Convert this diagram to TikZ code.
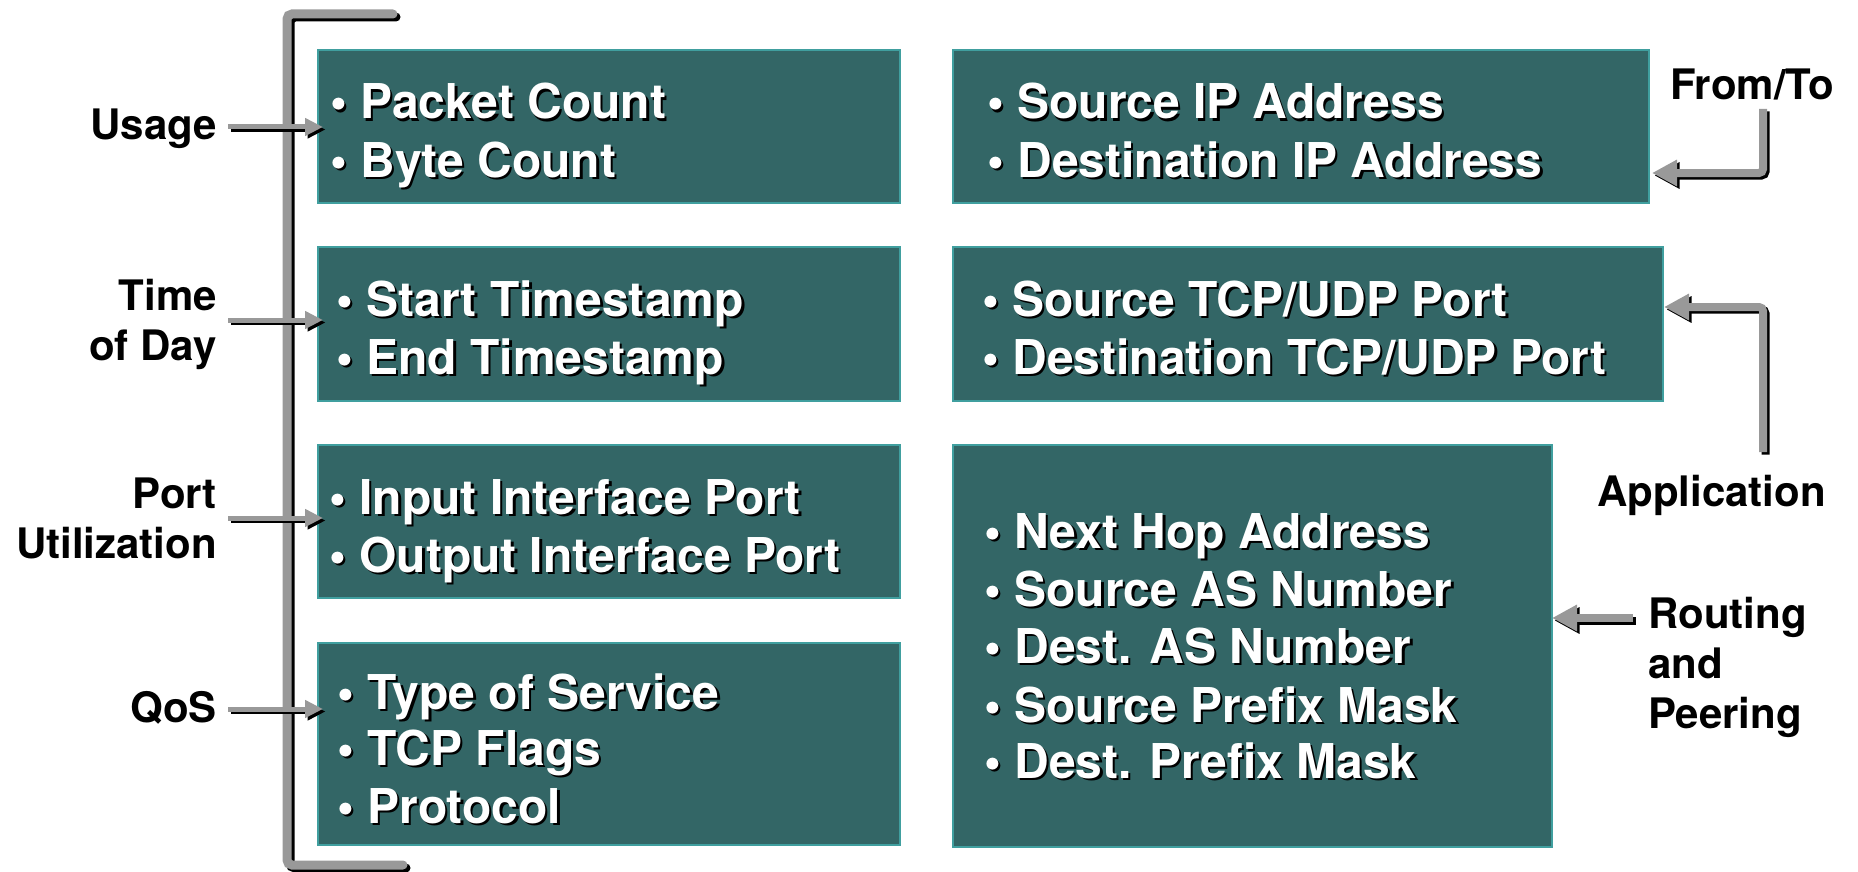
\documentclass[tikz,border=0pt]{standalone}
\usepackage{fontspec}
\setmainfont{TeX Gyre Heros}
\usetikzlibrary{arrows.meta,calc}
\definecolor{boxfill}{HTML}{336666}
\definecolor{boxline}{HTML}{409F9F}
\definecolor{arrgray}{HTML}{999999}
\newcommand{\shtxt}[1]{\rlap{\hspace{2.5pt}\raisebox{-2.5pt}{\color{black}#1}}{\color{white}#1}}
\begin{document}
\begin{tikzpicture}[x=1pt,y=-1pt,
  fbox/.style={draw=boxline, line width=2pt, fill=boxfill, anchor=north west, inner sep=0pt, outer sep=0pt},
  item/.style={anchor=base west, inner sep=0pt, font=\bfseries\fontsize{48}{58}\selectfont},
  lbl/.style={inner sep=0pt, text=black, font=\bfseries\fontsize{42}{50}\selectfont},
  shad/.style={draw=black, transform canvas={xshift=2.5pt,yshift=-2.5pt}},
  brk/.style={line width=9pt, line cap=round, rounded corners=5pt},
  larr/.style={line width=5pt, -{Triangle[length=18pt,width=17pt]}},
  rarr/.style={line width=8pt, rounded corners=4pt, -{Triangle[length=25pt,width=25pt]}}
]
\useasboundingbox (0,0) rectangle (1858,872);

% bracket
\coordinate (k1) at (393,14);
\coordinate (k2) at (287,14);
\coordinate (k3) at (287,865);
\coordinate (k4) at (403,865);
\draw[brk, black, transform canvas={xshift=3pt,yshift=-3pt}] (k1) -- (k2) -- (k3) -- (k4);
\draw[brk, arrgray] (k1) -- (k2) -- (k3) -- (k4);

% boxes
\node[fbox, minimum width=582pt, minimum height=153pt] (b1) at (318,50) {};
\node[fbox, minimum width=582pt, minimum height=154pt] (b2) at (318,247) {};
\node[fbox, minimum width=582pt, minimum height=153pt] (b3) at (318,445) {};
\node[fbox, minimum width=582pt, minimum height=202pt] (b4) at (318,643) {};
\node[fbox, minimum width=696pt, minimum height=153pt] (b5) at (953,50) {};
\node[fbox, minimum width=710pt, minimum height=154pt] (b6) at (953,247) {};
\node[fbox, minimum width=599pt, minimum height=402pt] (b7) at (953,445) {};

% box texts
\node[item] (t11) at (330,119) {\shtxt{• Packet Count}};
\node[item] (t12) at (330,177) {\shtxt{• Byte Count}};
\node[item] (t21) at (336,316) {\shtxt{• Start Timestamp}};
\node[item] (t22) at (336,374) {\shtxt{• End Timestamp}};
\node[item] (t31) at (329,514) {\shtxt{• Input Interface Port}};
\node[item] (t32) at (329,572) {\shtxt{• Output Interface Port}};
\node[item] (t41) at (337,709) {\shtxt{• Type of Service}};
\node[item] (t42) at (337,765) {\shtxt{• TCP Flags}};
\node[item] (t43) at (337,823) {\shtxt{• Protocol}};
\node[item] (t51) at (987,119) {\shtxt{• Source IP Address}};
\node[item] (t52) at (987,177) {\shtxt{• Destination IP Address}};
\node[item] (t61) at (982,316) {\shtxt{• Source TCP/UDP Port}};
\node[item] (t62) at (982,374) {\shtxt{• Destination TCP/UDP Port}};
\node[item] (t71) at (984,548) {\shtxt{• Next Hop Address}};
\node[item] (t72) at (984,606) {\shtxt{• Source AS Number}};
\node[item] (t73) at (984,663) {\shtxt{• Dest. AS Number}};
\node[item] (t74) at (984,722) {\shtxt{• Source Prefix Mask}};
\node[item] (t75) at (984,778) {\shtxt{• Dest. Prefix Mask}};

% left labels
\node[lbl, anchor=base east] (usage) at (217,140) {Usage};
\node[lbl, anchor=base east] (time1) at (217,310) {Time};
\node[lbl, anchor=base east] (time2) at (217,360) {of Day};
\node[lbl, anchor=base east] (port1) at (217,508) {Port};
\node[lbl, anchor=base east] (port2) at (217,558) {Utilization};
\node[lbl, anchor=base east] (qos) at (217,722) {QoS};

% right labels
\node[lbl, anchor=base west] (fromto) at (1670,100) {From/To};
\node[lbl, anchor=base west] (appl) at (1597,506) {Application};
\node[lbl, anchor=base west] (rout1) at (1648,628) {Routing};
\node[lbl, anchor=base west] (rout2) at (1648,678) {and};
\node[lbl, anchor=base west] (rout3) at (1648,728) {Peering};

% left arrows
\coordinate (ua) at (228,127);
\coordinate (ta) at (228,320);
\coordinate (pa) at (228,518);
\coordinate (qa) at (228,709);
\foreach \s/\b in {ua/b1, ta/b2, pa/b3, qa/b4} {
  \draw[larr, shad] (\s) -- ($(\s -| \b.west)+(5,0)$);
  \draw[larr, arrgray] (\s) -- ($(\s -| \b.west)+(5,0)$);
}

% right arrows
\coordinate (fa) at (1763,109);
\coordinate (aa) at (1763,452);
\coordinate (ra) at (1633,618);
\draw[rarr, shad] (fa) |- ($(b5.south east)+(3,-30)$);
\draw[rarr, arrgray] (fa) |- ($(b5.south east)+(3,-30)$);
\draw[rarr, shad] (aa) |- ($(b6.east)+(1,-17)$);
\draw[rarr, arrgray] (aa) |- ($(b6.east)+(1,-17)$);
\draw[rarr, shad] (ra) -- (ra -| b7.east);
\draw[rarr, arrgray] (ra) -- (ra -| b7.east);
\end{tikzpicture}
\end{document}
